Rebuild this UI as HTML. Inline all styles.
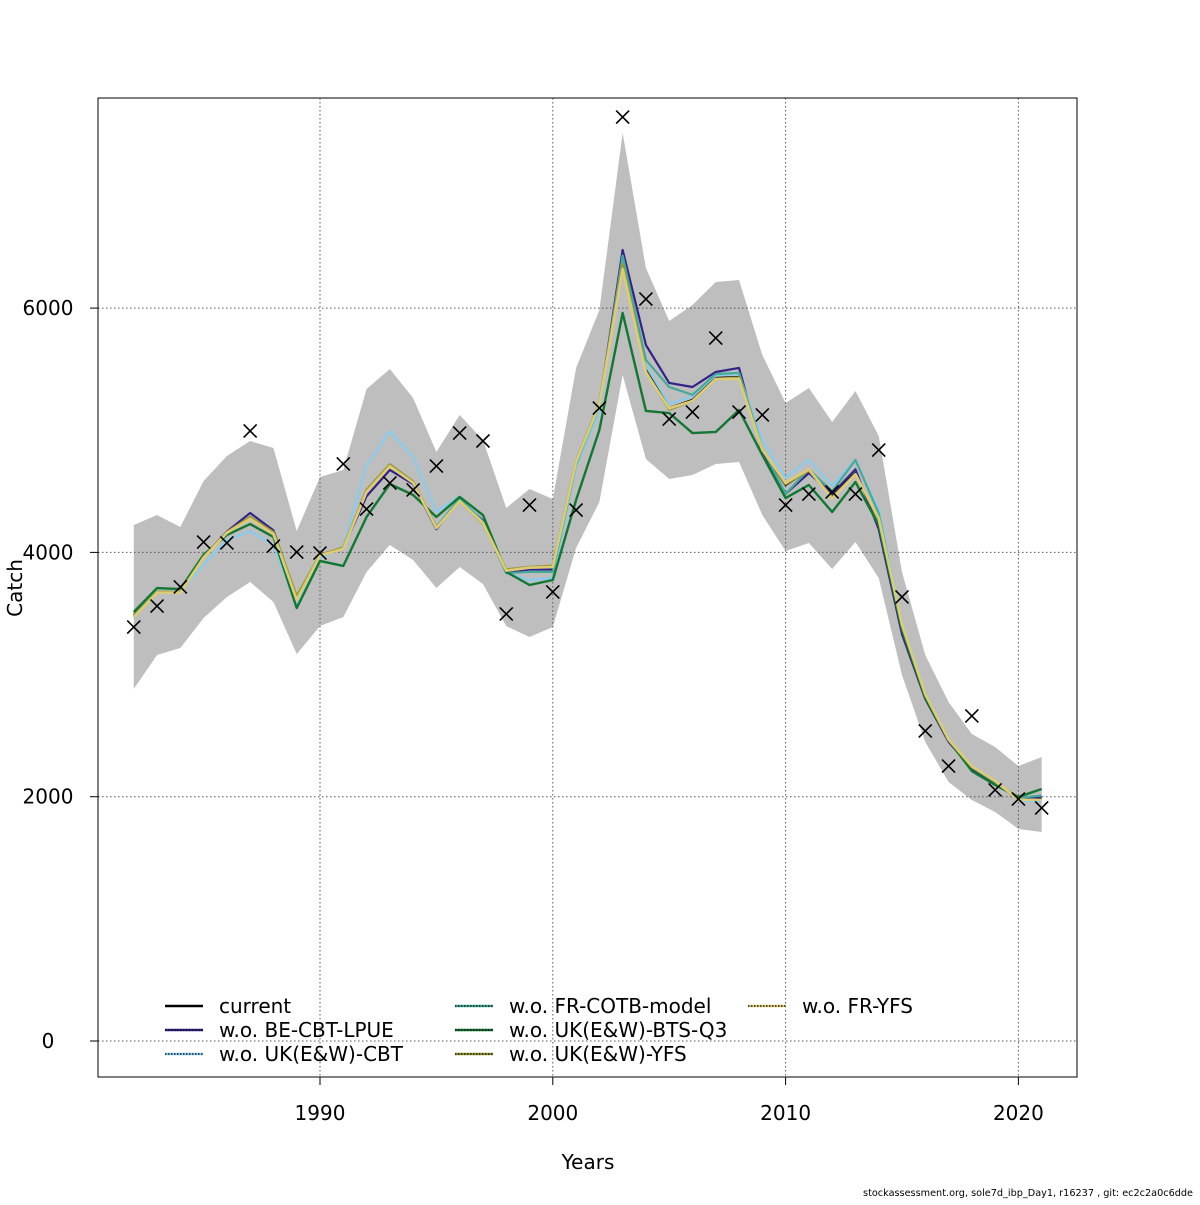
<!DOCTYPE html>
<html><head><meta charset="utf-8"><style>
body{margin:0;background:#fff}
svg text{font-family:"DejaVu Sans","Liberation Sans",sans-serif}
</style></head><body>
<svg id="chart" width="1200" height="1200" xmlns="http://www.w3.org/2000/svg">
<rect width="1200" height="1200" fill="#fff"/>
<g id="band"></g>
<g id="grid"></g>
<g id="lines"></g>
<g id="obs"></g>
<rect x="98" y="98" width="979" height="979" fill="none" stroke="#000" stroke-width="1"/>
<g id="axes"></g>
<g id="legend"></g>
<text x="22" y="588" font-size="20" text-anchor="middle" transform="rotate(-90 22 588)">Catch</text>
<text x="588" y="1169" font-size="20" text-anchor="middle">Years</text>
<text x="1193" y="1196" font-size="9.7" text-anchor="end">stockassessment.org, sole7d_ibp_Day1, r16237 , git: ec2c2a0c6dde</text>
</svg>
<script>
const years=[1982,1983,1984,1985,1986,1987,1988,1989,1990,1991,1992,1993,1994,1995,1996,1997,1998,1999,2000,2001,2002,2003,2004,2005,2006,2007,2008,2009,2010,2011,2012,2013,2014,2015,2016,2017,2018,2019,2020,2021];
const observed=[3389,3561,3717,4085,4077,4994,4052,4003,3995,4724,4355,4568,4511,4707,4977,4912,3496,4388,3676,4347,5182,7564,6074,5092,5149,5755,5149,5125,4388,4478,4495,4478,4838,3635,2538,2251,2661,2055,1981,1908];
const upper=[4224,4306,4208,4585,4789,4912,4855,4175,4617,4675,5338,5501,5264,4822,5125,4920,4364,4519,4437,5510,5984,7434,6328,5894,6025,6214,6230,5616,5223,5346,5068,5321,4953,3840,3160,2775,2513,2407,2251,2325];
const lower=[2882,3160,3217,3463,3635,3758,3594,3168,3397,3471,3840,4061,3938,3709,3880,3741,3397,3307,3389,4036,4413,5452,4765,4601,4634,4724,4740,4306,4011,4077,3864,4085,3790,2996,2448,2120,1973,1875,1736,1711];
const current=[3488,3676,3676,3962,4159,4282,4159,3635,3979,4036,4503,4716,4576,4208,4429,4241,3848,3872,3880,4740,5215,6377,5493,5182,5248,5428,5436,4838,4552,4675,4462,4650,4265,3397,2833,2464,2243,2120,1981,1981];
const woBE=[3470,3676,3676,3962,4170,4323,4180,3620,3979,4036,4460,4675,4560,4190,4440,4260,3840,3860,3860,4720,5200,6476,5698,5387,5354,5477,5510,4820,4480,4650,4480,4680,4190,3330,2800,2450,2230,2110,1981,2000];
const woUKCBT=[3480,3680,3680,3900,4100,4175,4060,3560,3950,4050,4716,4994,4781,4331,4460,4250,3830,3774,3790,4700,5150,6420,5530,5215,5280,5450,5460,4920,4609,4757,4544,4757,4347,3420,2850,2470,2250,2130,1970,1960];
const woFRCOTB=[3485,3676,3676,3960,4160,4290,4160,3630,3975,4036,4500,4710,4570,4210,4440,4250,3830,3840,3840,4720,5200,6430,5575,5354,5290,5460,5470,4850,4480,4680,4500,4757,4320,3390,2830,2460,2240,2120,1990,2010];
const woBTS=[3512,3708,3700,3980,4143,4232,4126,3545,3930,3889,4290,4560,4470,4290,4454,4306,3840,3733,3774,4429,5002,5960,5158,5141,4977,4986,5166,4797,4445,4552,4331,4576,4224,3365,2808,2464,2210,2096,1998,2063];
const woUKYFS=[3480,3676,3676,3962,4165,4290,4165,3640,3979,4040,4510,4720,4580,4200,4420,4235,3860,3880,3890,4745,5220,6360,5480,5170,5240,5420,5430,4840,4560,4670,4450,4640,4270,3400,2835,2465,2245,2125,1975,1975];
const woFRYFS=[3470,3670,3670,3955,4160,4275,4150,3610,3975,4030,4495,4705,4570,4200,4420,4240,3850,3875,3880,4740,5210,6320,5470,5180,5240,5420,5420,4840,4570,4680,4440,4640,4280,3410,2840,2470,2250,2130,1975,1975];
const seriesNames=["current","w.o. BE-CBT-LPUE","w.o. UK(E&W)-CBT","w.o. FR-COTB-model","w.o. UK(E&W)-BTS-Q3","w.o. UK(E&W)-YFS","w.o. FR-YFS"];
const xTicks=[1990,2000,2010,2020];
const yTicks=[0,2000,4000,6000];

const NS="http://www.w3.org/2000/svg";
function X(yr){return 320+(yr-1990)*23.28;}
function Y(v){return 1041-v*0.12215;}
function mk(tag,attrs,parent){const e=document.createElementNS(NS,tag);for(const k in attrs)e.setAttribute(k,attrs[k]);parent.appendChild(e);return e;}
const band=document.getElementById('band'),grid=document.getElementById('grid'),lines=document.getElementById('lines'),obs=document.getElementById('obs'),axes=document.getElementById('axes'),legend=document.getElementById('legend');

let pts=years.map((y,i)=>X(y)+','+Y(upper[i]));
for(let i=years.length-1;i>=0;i--)pts.push(X(years[i])+','+Y(lower[i]));
const poly=mk('polygon',{points:pts.join(' '),fill:'#bebebe',stroke:'none'},band);



xTicks.forEach(t=>{
  const l=mk('line',{x1:X(t),x2:X(t),y1:98,y2:1077,stroke:'#555','stroke-dasharray':'1.5,2.5','stroke-width':1},grid);
  
  
  const tk=mk('line',{x1:X(t),x2:X(t),y1:1077,y2:1085,stroke:'#000'},axes);
  
  
  const tx=mk('text',{x:X(t),y:1120,'font-size':20,'text-anchor':'middle'},axes);tx.textContent=t;
  
  
});
yTicks.forEach(t=>{
  const l=mk('line',{x1:98,x2:1077,y1:Y(t),y2:Y(t),stroke:'#555','stroke-dasharray':'1.5,2.5','stroke-width':1},grid);
  
  
  const tk=mk('line',{x1:90,x2:98,y1:Y(t),y2:Y(t),stroke:'#000'},axes);
  
  
  const tx=mk('text',{x:48,y:Y(t)+7,'font-size':20,'text-anchor':'middle'},axes);tx.textContent=t;
  
  
});

const seriesData=[current,woBE,woUKCBT,woFRCOTB,woBTS,woUKYFS,woFRYFS];
const colors=["#000000","#332288","#88ccee","#44aa99","#117733","#999933","#ddcc77"];
const widths=[2.2,2.2,2.2,2.2,2.4,2.6,2.6];
const keys=["current","be-cbt-lpue","uk-cbt","fr-cotb-model","uk-bts-q3","uk-yfs","fr-yfs"];
seriesData.forEach((d,s)=>{
  const p=mk('polyline',{points:years.map((y,i)=>X(y)+','+Y(d[i])).join(' '),fill:'none',stroke:colors[s],'stroke-width':widths[s],'stroke-linejoin':'round'},lines);
  
  
});
years.forEach((y,i)=>{
  const cx=X(y),cy=Y(observed[i]),r=6.5;
  const g=mk('path',{d:`M${cx-r},${cy-r}L${cx+r},${cy+r}M${cx-r},${cy+r}L${cx+r},${cy-r}`,stroke:'#000','stroke-width':1.6,fill:'none'},obs);
  
  
});

const lx=[165,455,748],ly=[1006,1030,1054];
seriesNames.forEach((n,s)=>{
  const c=Math.floor(s/3),r=s%3;
  const g=mk('g',{},legend);
  
  
  mk('line',{x1:lx[c],x2:lx[c]+38,y1:ly[r],y2:ly[r],stroke:colors[s],'stroke-width':2.5},g);
  if(s>0)mk('line',{x1:lx[c],x2:lx[c]+38,y1:ly[r],y2:ly[r],stroke:'#000','stroke-width':1.2,'stroke-dasharray':'1.5,1.5'},g);
  const t=mk('text',{x:lx[c]+54,y:ly[r]+7,'font-size':20},g);t.textContent=n;
});
</script>
</body></html>
